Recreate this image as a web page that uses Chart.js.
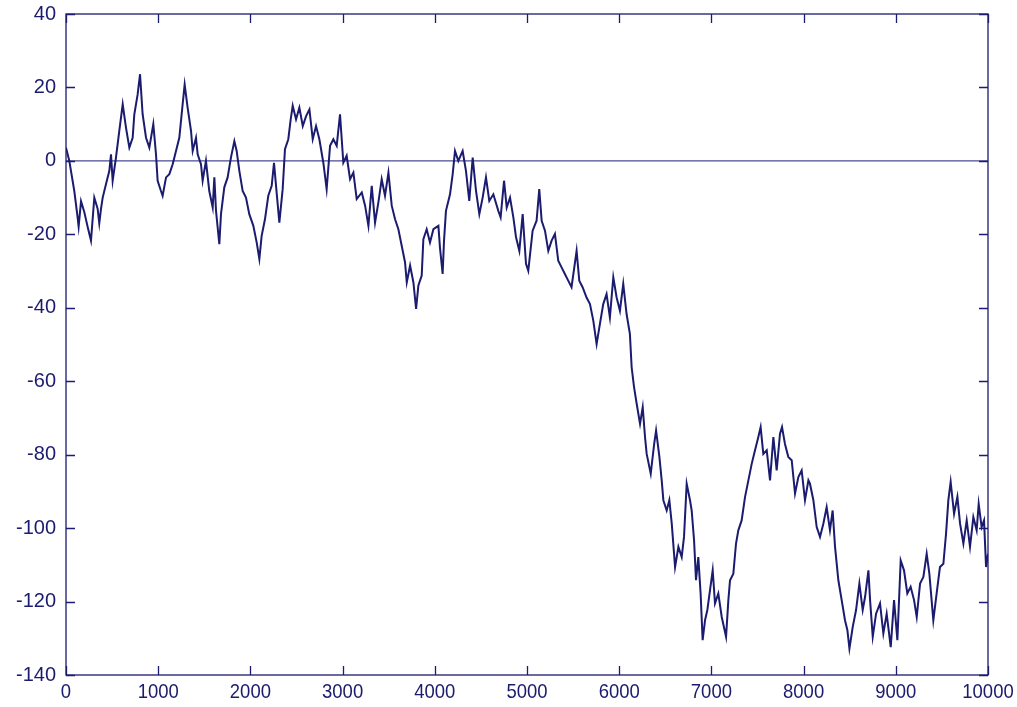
<!DOCTYPE html>
<html><head><meta charset="utf-8">
<script src="https://cdn.jsdelivr.net/npm/chart.js@4/dist/chart.umd.min.js"></script>
<style>html,body{margin:0;padding:0;background:#fff}#wrap{width:1017px;height:707px}</style>
</head><body><div id="wrap"><canvas id="c" width="1017" height="707"></canvas></div>
<script>
const steps = [0,36,90,126,137,163,199,217,235,271,307,343,361,380,398,434,470,488,506,542,578,615,651,687,723,741,777,803,831,868,904,947,976,994,1030,1048,1085,1121,1157,1193,1229,1265,1287,1319,1356,1374,1410,1428,1464,1482,1518,1554,1591,1609,1627,1663,1681,1717,1753,1789,1826,1851,1880,1916,1952,1988,
2032,2068,2097,2122,2158,2194,2231,2256,2278,2314,2350,2375,2411,2437,2459,2495,2531,2568,2604,2640,2676,2712,2748,2791,2827,2864,2900,2936,2972,3008,3044,3081,3117,3153,3208,3244,3280,3316,3352,3388,3424,3460,3497,3533,3569,3605,3641,3677,3696,3732,3768,3797,3822,3858,3876,3912,3948,3985,4039,
4056,4085,4100,4121,4165,4194,4219,4255,4302,4338,4374,4411,4447,4483,4519,4555,4591,4635,4689,4714,4751,4780,4816,4852,4881,4917,4953,4989,5014,5061,5104,5133,5159,5195,5231,5267,5303,5339,5375,5411,5447,5483,5538,5567,5603,5646,5683,5719,5755,5791,5827,5863,5899,5936,5972,6008,6044,6080,6116,
6135,6161,6190,6226,6255,6280,6298,6342,6379,6400,6436,6461,6479,6515,6544,6570,6595,6606,6642,6678,6703,6732,6768,6786,6812,6833,6858,6883,6905,6931,6956,6985,7014,7039,7075,7112,7159,7184,7202,7238,7267,7292,7328,7365,7401,7437,7473,7509,7534,7563,7600,7636,7672,7708,7744,7766,7798,7834,7871,7907,7943,7979,8015,8052,
8069,8106,8142,8178,8214,8250,8286,8315,8341,8377,8413,8449,8475,8497,8533,8569,8605,8641,8667,8703,8721,8750,8786,8829,8865,8901,8945,8981,9017,9053,9089,9125,9161,9198,9227,9263,9299,9335,9364,9407,9443,9479,9516,9545,9570,9595,9632,9668,9697,9733,9769,9805,9841,9877,9899,9931,9957,9979,10000];
const walk = [3.6,0,-8.2,-15.4,-17.9,-11,-14,-16,-18,-21.7,-10,-13,-17,-13,-10,-6.3,-2.7,1.8,-5.4,0.9,8.2,15.4,9,3.6,6.3,12.7,18.1,23.6,12.7,6.3,3.6,10,1.8,-5.4,-8.2,-9.5,-4.5,-3.6,-0.9,2.7,6.3,15.4,20.8,14.5,8.2,2.7,6.3,1.8,-0.9,-5.4,0,-8.2,-12.7,-4.5,-13.6,-22.7,-14.5,-7.2,-4.5,0.9,5.4,2.7,-2.7,-8.2,-10,-14.5,
-17.7,-22.2,-26.7,-20.4,-15.9,-9.5,-6.8,-0.5,-6.8,-16.8,-7.7,3.2,5.9,11.3,15,11.3,14.5,9.5,12.2,14,5.9,9.5,5.9,-0.5,-7.7,4.1,5.9,4.1,12.7,-0.5,1.4,-5,-3.2,-10.4,-8.6,-12.2,-17.7,-6.8,-16.8,-11.3,-5,-9.5,-3.2,-12.2,-15.9,-18.6,-23.1,-27.6,-33.1,-28.5,-33.1,-40.3,-33.9,-31.2,-21.3,-18.6,-22.2,-18.6,-17.7,
-23.6,-30.8,-21.7,-13.6,-9.1,-3.6,2.7,0,2.7,-2.7,-10.9,0.9,-8.2,-14.5,-10,-4.5,-10.9,-9.1,-13.6,-15.4,-5.4,-12.7,-10,-15.4,-20.8,-24.5,-14.5,-28,-29.9,-19,-16.3,-7.7,-16.3,-19,-24.5,-21.7,-19.9,-27.2,-29,-30.8,-32.6,-34.4,-24.5,-32.6,-34.4,-37.2,-39,-43.5,-49.9,-44.4,-39,-36.3,-42.6,-31.7,-37.2,-40.8,-33.5,-41.7,-47.1,
-56.2,-61.6,-66.2,-71.6,-67.1,-75.2,-79.8,-85.2,-77.1,-73.4,-80.6,-87,-92.4,-95.2,-92.4,-98.8,-107,-110.6,-105.1,-107.9,-102.4,-87.9,-92.4,-95.2,-103.3,-114.2,-107.9,-117.8,-130.5,-125.1,-122.3,-116.9,-111.5,-120.5,-117.8,-124.2,-129.6,-119.6,-114.2,-112.4,-104.2,-100.6,-97.9,-91.5,-87,-82.5,-78.8,-75.2,-72.5,-79.8,-78.8,-87,-75.2,-84.3,-74.3,-72.5,-77.1,-80.6,-81.5,-90.6,-86.1,-84.3,-92.4,-87,
-87.9,-92.4,-99.7,-102.4,-98.8,-94.3,-100.6,-95.2,-105.1,-114.2,-119.6,-125.1,-127.8,-132.8,-126.9,-122.3,-115.1,-122.3,-118.7,-111.5,-119.6,-129.6,-123.3,-120.5,-128.7,-123.3,-132.4,-119.6,-130.5,-108.8,-111.5,-117.8,-116,-119.6,-124.2,-115.1,-113.3,-107,-112.4,-125.1,-117.8,-110.6,-109.7,-101.5,-92.4,-87.4,-96.1,-91.5,-98.8,-104.2,-97.9,-105.1,-97,-100.6,-93.4,-99.7,-97.9,-110.6,-107];
const xTicks = [0,1000,2000,3000,4000,5000,6000,7000,8000,9000,10000];
const yTicks = [40,20,0,-20,-40,-60,-80,-100,-120,-140];
const zeroLine = [{x:0,y:0},{x:10000,y:0}];

const NAVY = '#1b1b6f';
const walkData = steps.map((s,i)=>({x:s,y:walk[i]}));

const frame = {
  id:'frame',
  afterDatasetsDraw(chart){
    const {ctx, chartArea:a, scales:{x,y}} = chart;
    ctx.save();
    ctx.strokeStyle = NAVY; ctx.lineWidth = 1.3;
    ctx.strokeRect(a.left, a.top, a.right-a.left, a.bottom-a.top);
    ctx.beginPath();
    const L = 9;
    xTicks.forEach(v=>{const p=Math.round(x.getPixelForValue(v))+0.5;
      ctx.moveTo(p,a.bottom); ctx.lineTo(p,a.bottom-L);
      ctx.moveTo(p,a.top); ctx.lineTo(p,a.top+L);});
    yTicks.forEach(v=>{const p=Math.round(y.getPixelForValue(v))+0.5;
      ctx.moveTo(a.left,p); ctx.lineTo(a.left+L,p);
      ctx.moveTo(a.right,p); ctx.lineTo(a.right-L,p);});
    ctx.stroke();
    // x tick labels (slightly condensed face as in the reference)
    ctx.fillStyle = NAVY;
    ctx.font = '21px "Liberation Sans", Arial, sans-serif';
    ctx.textAlign = 'center'; ctx.textBaseline = 'middle';
    xTicks.forEach(v=>{
      const p = x.getPixelForValue(v);
      ctx.save(); ctx.translate(p, a.bottom+17); ctx.scale(0.88,1);
      ctx.fillText(String(v),0,0); ctx.restore();
    });
    ctx.restore();
  }
};

new Chart(document.getElementById('c'), {
  type:'line',
  data:{datasets:[
    {data:zeroLine, borderColor:'#4a4a96', borderWidth:1.2, pointRadius:0, order:2},
    {data:walkData, borderColor:NAVY, borderWidth:2, pointRadius:0, tension:0, order:1}
  ]},
  options:{
    responsive:false, animation:false, devicePixelRatio:1,
    layout:{padding:{top:13,right:29,left:0,bottom:0}},
    plugins:{legend:{display:false},tooltip:{enabled:false}},
    scales:{
      x:{type:'linear',min:0,max:10000,
        afterBuildTicks(s){s.ticks=xTicks.map(v=>({value:v}));},
        afterFit(s){s.height=32;},
        grid:{display:false}, border:{display:false},
        ticks:{display:false}},
      y:{type:'linear',min:-140,max:40,
        afterBuildTicks(s){s.ticks=yTicks.map(v=>({value:v}));},
        afterFit(s){s.width=66;},
        grid:{display:false}, border:{display:false},
        ticks:{color:NAVY,padding:2,autoSkip:false,
          font:{family:'"Liberation Sans",Arial,sans-serif',size:20},
          callback:v=>String(v)}}
    }
  },
  plugins:[frame]
});
</script></body></html>
